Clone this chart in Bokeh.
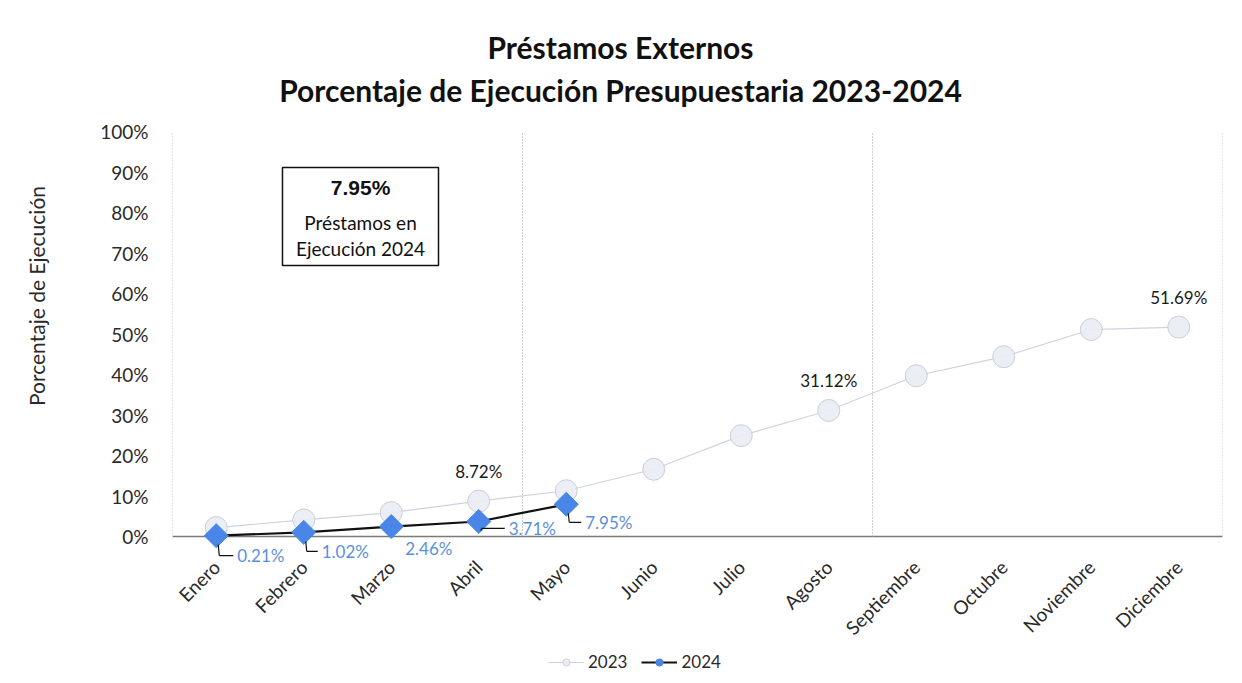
import numpy as np
from bokeh.plotting import figure
from bokeh.layouts import column
from bokeh.models import (ColumnDataSource, Range1d, FixedTicker, PrintfTickFormatter,
                          LabelSet, Label, BoxAnnotation, Arrow, Legend, LegendItem)
from bokeh.core.properties import value
from bokeh.embed import file_html
from bokeh.resources import INLINE

# ---------------- data ----------------
months = ["Enero", "Febrero", "Marzo", "Abril", "Mayo", "Junio", "Julio", "Agosto",
          "Septiembre", "Octubre", "Noviembre", "Diciembre"]
exec_2023 = [2.2, 4.1, 5.9, 8.72, 11.3, 16.6, 24.9, 31.12, 39.7, 44.4, 51.1, 51.69]
exec_2024 = [0.21, 1.02, 2.46, 3.71, 7.95]
series_names = ["2023", "2024"]
period_bounds = [0, 4, 8, 12]          # cuatrimestres (month boundaries)
y_ticks = [0, 10, 20, 30, 40, 50, 60, 70, 80, 90, 100]
title_1 = "Préstamos Externos"
title_2 = "Porcentaje de Ejecución Presupuestaria 2023-2024"
y_title = "Porcentaje de Ejecución"
box_caption = ["Préstamos en", "Ejecución 2024"]

# ---------------- style / layout ----------------
FONT = "Lato"
C23_LINE = "#cdd3de"
C23_FILL = "#e9edf4"
C23_EDGE = "#c9cfd9"
C24 = "#4a86e8"
C24_TXT = "#5b8fdb"

FRAME_W, FRAME_H = 1050, 539
PX_PER_PCT = 4.05
X0, X1 = -0.5, 11.5
Y1 = 100 + 105 / PX_PER_PCT       # room for the titles inside the frame
Y0 = Y1 - FRAME_H / PX_PER_PCT    # room below 0 % for the 2024 labels
XPX = (X1 - X0) / FRAME_W         # data units per pixel
YPX = 1 / PX_PER_PCT

# per-label placement of 2024 labels (pixels: left offset, downward offset, leader on/off)
lbl_dx = [21, 18, 14, 30, 19]
lbl_dy = [20, 19, 22, 7, 18]
leader = [1, 1, 0, 1, 1]

x_all = list(range(len(months)))
x24 = x_all[:len(exec_2024)]

p = figure(frame_width=FRAME_W, frame_height=FRAME_H,
           min_border_left=172, min_border_right=12, min_border_top=26, min_border_bottom=80,
           x_range=Range1d(X0, X1), y_range=Range1d(Y0, Y1),
           output_backend="svg", toolbar_location=None, tools="")
p.outline_line_color = None
p.grid.grid_line_color = None
p.background_fill_color = "white"
p.border_fill_color = "white"

# axes
p.yaxis.ticker = FixedTicker(ticks=y_ticks)
p.yaxis.formatter = PrintfTickFormatter(format="%d%%")
p.yaxis.axis_line_color = None
p.yaxis.major_tick_line_color = None
p.yaxis.minor_tick_line_color = None
p.yaxis.major_label_standoff = 18
p.yaxis.major_label_text_font = FONT
p.yaxis.major_label_text_font_size = "19px"
p.yaxis.major_label_text_color = "#2a2a2a"
p.yaxis.axis_label = y_title
p.yaxis.axis_label_standoff = 48
p.yaxis.axis_label_text_font = FONT
p.yaxis.axis_label_text_font_style = "normal"
p.yaxis.axis_label_text_font_size = "21px"
p.yaxis.axis_label_text_color = "#2a2a2a"

p.xaxis.ticker = FixedTicker(ticks=x_all)
p.xaxis.major_label_overrides = {i: m for i, m in zip(x_all, months)}
p.xaxis.major_label_orientation = np.pi / 4
p.xaxis.axis_line_color = None
p.xaxis.major_tick_line_color = None
p.xaxis.minor_tick_line_color = None
p.xaxis.major_label_standoff = -8
p.xaxis.major_label_text_font = FONT
p.xaxis.major_label_text_font_size = "19px"
p.xaxis.major_label_text_color = "#2a2a2a"

# baseline and period separators
bx = [b - 0.5 for b in period_bounds]
p.segment(x0=[X0], y0=[0], x1=[X1], y1=[0], line_color="#7a7a7a", line_width=1.3)
p.segment(x0=bx, y0=[0] * len(bx), x1=bx, y1=[100] * len(bx),
          line_color="#9a9a9a", line_width=1, line_dash="1 2")

# series 2023
line23 = dict(line_color=C23_LINE, line_width=1.2)
mark23 = dict(marker="circle", size=22, fill_color=C23_FILL, line_color=C23_EDGE,
              line_width=1, fill_alpha=0.9)
s23 = ColumnDataSource(dict(x=x_all, y=exec_2023))
p.line("x", "y", source=s23, **line23)
p.scatter("x", "y", source=s23, **mark23)

# series 2024
line24 = dict(line_color="#111111", line_width=2.2)
mark24 = dict(marker="square", angle=np.pi / 4, size=17, fill_color=C24, line_color=C24,
              line_width=1)
s24 = ColumnDataSource(dict(x=x24, y=exec_2024))
p.line("x", "y", source=s24, **line24)
p.scatter("x", "y", source=s24, **mark24)

# 2023 labels at the end of each cuatrimestre
sel = [b - 1 for b in period_bounds if b > 0]
lab23 = ColumnDataSource(dict(x=[x_all[i] for i in sel], y=[exec_2023[i] for i in sel],
                              t=["%.2f%%" % exec_2023[i] for i in sel]))
p.add_layout(LabelSet(x="x", y="y", text="t", source=lab23, y_offset=30,
                      text_align="center", text_baseline="middle",
                      text_font=value(FONT), text_font_size=value("17px"),
                      text_color=value("#1a1a1a")))

# 2024 labels with leader lines
lab24 = ColumnDataSource(dict(x=x24, y=exec_2024, t=["%.2f%%" % v for v in exec_2024],
                              dx=lbl_dx, dy=[-d for d in lbl_dy]))
p.add_layout(LabelSet(x="x", y="y", text="t", source=lab24, x_offset="dx", y_offset="dy",
                      text_align="left", text_baseline="middle",
                      text_font=value(FONT), text_font_size=value("17px"),
                      text_color=value(C24_TXT)))

vx0, vy0, vx1, vy1, hx1 = [], [], [], [], []
for xi, yi, dx, dy, on in zip(x24, exec_2024, lbl_dx, lbl_dy, leader):
    if not on:
        continue
    vx0.append(xi + 2 * XPX)
    vy0.append(yi - 9 * YPX)
    vx1.append(xi + 3 * XPX)
    vy1.append(yi - dy * YPX)
    hx1.append(xi + (dx - 4) * XPX)
vsrc = ColumnDataSource(dict(x0=vx0, y0=vy0, x1=vx1, y1=vy1))
hsrc = ColumnDataSource(dict(x0=vx1, y0=vy1, x1=hx1, y1=vy1))
p.add_layout(Arrow(end=None, source=vsrc, x_start="x0", y_start="y0", x_end="x1", y_end="y1",
                   line_color="#111111", line_width=1.2))
p.add_layout(Arrow(end=None, source=hsrc, x_start="x0", y_start="y0", x_end="x1", y_end="y1",
                   line_color="#111111", line_width=1.2))

# annotation box
p.add_layout(BoxAnnotation(left=0.757, right=2.54, top=91.1, bottom=66.9,
                           fill_color="white", fill_alpha=1.0, line_alpha=1.0,
                           line_color="#111111", line_width=1.5, level="overlay"))
p.add_layout(Label(x=1.649, y=86.2, text="%.2f%%" % exec_2024[-1], text_align="center",
                   text_baseline="middle", text_font="Liberation Sans", text_font_style="bold",
                   text_font_size="21px", text_color="#111111", level="overlay"))
p.add_layout(Label(x=1.649, y=77.5, text=box_caption[0], text_align="center",
                   text_baseline="middle", text_font=FONT, text_font_size="19px",
                   text_color="#111111", level="overlay"))
p.add_layout(Label(x=1.649, y=71.1, text=box_caption[1], text_align="center",
                   text_baseline="middle", text_font=FONT, text_font_size="19px",
                   text_color="#111111", level="overlay"))

# titles (inside the frame, above the 100 % level)
p.add_layout(Label(x=4.62, y=100 + 85 / PX_PER_PCT, text=title_1, text_align="center",
                   text_baseline="middle", text_font=FONT, text_font_style="bold",
                   text_font_size="30px", text_color="#111111"))
p.add_layout(Label(x=4.62, y=100 + 42 / PX_PER_PCT, text=title_2, text_align="center",
                   text_baseline="middle", text_font=FONT, text_font_style="bold",
                   text_font_size="30px", text_color="#111111"))

# ---------------- legend strip (separate small figure under the chart) ----------------
lf = figure(width=1234, height=30, min_border=0, x_range=Range1d(0, 1), y_range=Range1d(0, 1),
            x_axis_type=None, y_axis_type=None, output_backend="svg",
            toolbar_location=None, tools="")
lf.outline_line_color = None
lf.grid.grid_line_color = None
off = dict(x=[-10], y=[-10])   # swatch renderers kept outside the visible range
lg23 = [lf.line(**off, **line23), lf.scatter(**off, **mark23)]
lg24 = [lf.line(**off, **line24), lf.scatter(**off, marker="circle", size=11,
                                             fill_color=C24, line_color=C24)]
legend = Legend(items=[LegendItem(label=series_names[0], renderers=lg23),
                       LegendItem(label=series_names[1], renderers=lg24)],
                orientation="horizontal", location=(376, 8),
                border_line_color=None, background_fill_alpha=0,
                label_text_font=FONT, label_text_font_size="17px", label_text_color="#2a2a2a",
                glyph_width=36, glyph_height=18, spacing=14, padding=3, margin=0,
                label_standoff=4)
lf.add_layout(legend, "center")

open("out.html", "w").write(file_html(column(p, lf, spacing=0), INLINE))
